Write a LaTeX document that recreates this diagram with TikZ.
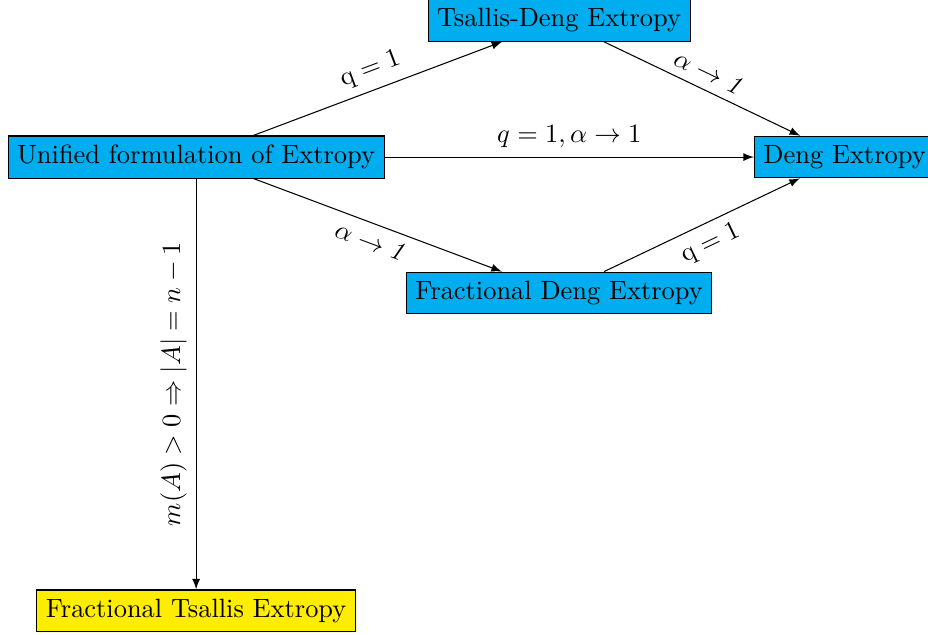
\documentclass[tikz,border=0pt]{standalone}
\usepackage{amsmath}
\definecolor{boxblue}{RGB}{0,174,239}
\definecolor{boxyellow}{RGB}{255,237,0}
\begin{document}
\begin{tikzpicture}[
    block/.style = {rectangle, draw, fill=boxblue, inner sep=0.12cm},
    result/.style = {rectangle, draw, fill=boxyellow, inner sep=0.12cm},
    line/.style = {draw, -latex}
]
    \useasboundingbox (0,0) rectangle (12.35,-8.44);
    % Nodes
    \node [block] (unified) at (2.61, -2.09) {Unified formulation of Extropy};
    \node [block] (tsdeng) at (7.44, -0.27) {Tsallis-Deng Extropy};
    \node [block] (deng) at (11.24, -2.09) {Deng Extropy};
    \node [block] (fracdeng) at (7.44, -3.90) {Fractional Deng Extropy};
    \node [result] (fractsallis) at (2.61, -8.13) {Fractional Tsallis Extropy};

    % Edges
    \path [line] (unified) -- node [above, sloped] {$\mathrm{q}=1$} (tsdeng);
    \path [line] (tsdeng) -- node [above, sloped] {$\alpha\rightarrow\mathit{1}$} (deng);
    \path [line] (unified) -- node [above] {$q=1,\alpha\rightarrow 1$} (deng);
    \path [line] (unified) -- node [below, sloped] {$\alpha\rightarrow\mathit{1}$} (fracdeng);
    \path [line] (fracdeng) -- node [below, sloped] {$\mathrm{q}=1$} (deng);
    \path [line] (unified) -- node [above, rotate=90] {$m(A)>0 \Rightarrow |A|=n-1$} (fractsallis);

\end{tikzpicture}
\end{document}
